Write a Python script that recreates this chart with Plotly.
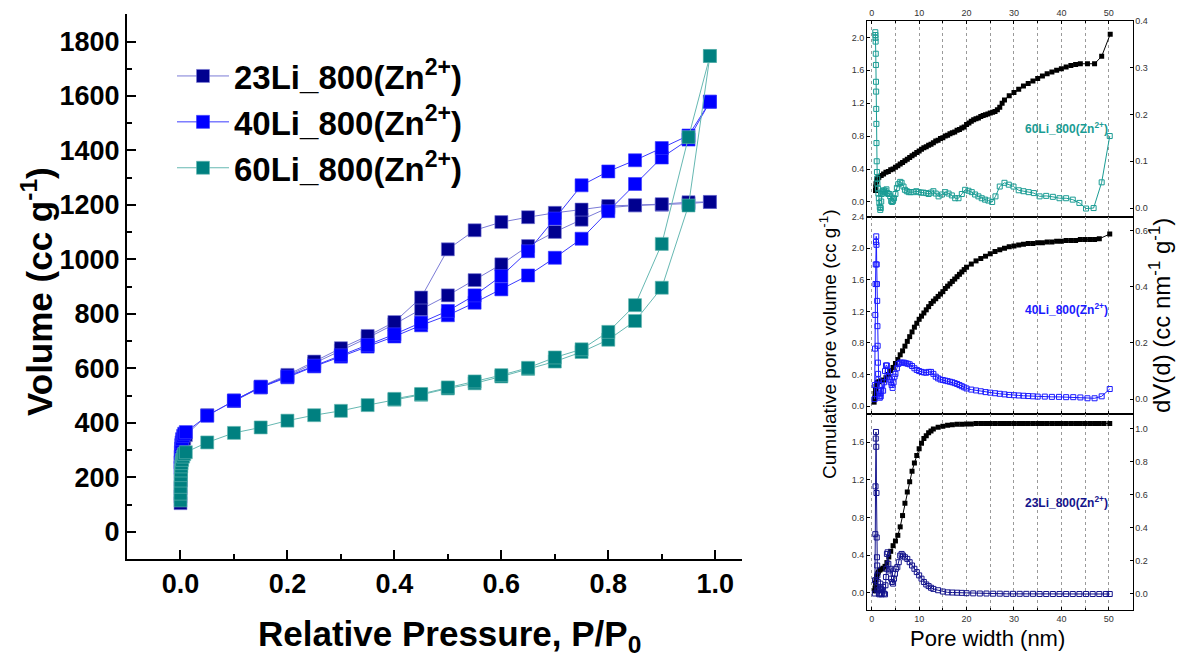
import plotly.graph_objects as go

W, H = 1184, 658

# ---------------- Left plot: N2 isotherms ----------------
P_ADS_23 = [0.00005, 0.0001, 0.0002, 0.0004, 0.0007, 0.001, 0.0015, 0.002, 0.003, 0.005, 0.007, 0.01,
            0.05, 0.1, 0.15, 0.2, 0.25, 0.3, 0.35, 0.4, 0.45, 0.5, 0.55, 0.6, 0.65, 0.7, 0.75, 0.8, 0.85,
            0.9, 0.95, 0.99]
V_ADS_23 = [105, 130, 160, 190, 220, 245, 268, 288, 308, 328, 342, 355,
            428, 480, 530, 572, 618, 665, 712, 762, 817, 868, 924, 982, 1049, 1101, 1146, 1190, 1198,
            1201, 1205, 1211]
P_DES_23 = [0.99, 0.95, 0.9, 0.85, 0.8, 0.75, 0.7, 0.65, 0.6, 0.55, 0.5, 0.45, 0.4, 0.35, 0.3, 0.25, 0.2,
            0.15, 0.1]
V_DES_23 = [1211, 1210, 1203, 1199, 1196, 1183, 1171, 1155, 1137, 1107, 1037, 860, 770, 719, 674, 625, 576,
            533, 482]

P_ADS_40 = [0.0001, 0.0002, 0.0004, 0.0007, 0.001, 0.0015, 0.002, 0.003, 0.005, 0.007, 0.01,
            0.05, 0.1, 0.15, 0.2, 0.25, 0.3, 0.35, 0.4, 0.45, 0.5, 0.55, 0.6, 0.65, 0.7, 0.75, 0.8, 0.85,
            0.9, 0.95, 0.99]
V_ADS_40 = [235, 255, 275, 292, 305, 318, 328, 340, 352, 360, 366,
            426, 481, 530, 567, 607, 643, 680, 717, 758, 795, 841, 890, 941, 1006, 1076, 1177, 1277,
            1374, 1440, 1579]
P_DES_40 = [0.99, 0.95, 0.9, 0.85, 0.8, 0.75, 0.7, 0.65, 0.6, 0.55, 0.5, 0.45, 0.4, 0.35, 0.3, 0.25, 0.2,
            0.15, 0.1]
V_DES_40 = [1579, 1455, 1409, 1364, 1323, 1272, 1150, 1030, 939, 868, 811, 768, 725, 686, 648, 610, 570,
            532, 482]

P_ADS_60 = [0.00005, 0.0001, 0.0002, 0.0004, 0.0007, 0.001, 0.0015, 0.002, 0.003, 0.005, 0.007, 0.01,
            0.05, 0.1, 0.15, 0.2, 0.25, 0.3, 0.35, 0.4, 0.45, 0.5, 0.55, 0.6, 0.65, 0.7, 0.75, 0.8, 0.85,
            0.9, 0.95, 0.99]
V_ADS_60 = [115, 140, 165, 188, 208, 225, 240, 252, 264, 276, 285, 292,
            328, 363, 383, 408, 428, 444, 465, 485, 503, 526, 545, 570, 598, 625, 660, 705, 774,
            896, 1198, 1747]
P_DES_60 = [0.99, 0.95, 0.9, 0.85, 0.8, 0.75, 0.7, 0.65, 0.6, 0.55, 0.5, 0.45, 0.4]
V_DES_60 = [1747, 1449, 1057, 832, 734, 670, 640, 602, 575, 552, 530, 506, 488]

ISO_NAMES = ["23Li_800(Zn<sup>2+</sup>)", "40Li_800(Zn<sup>2+</sup>)", "60Li_800(Zn<sup>2+</sup>)"]

# ---------------- Right plot: pore size distributions ----------------
PW_CUM_60 = [0.8, 0.85, 0.9, 1.0, 1.1, 1.3, 1.5, 2.0, 2.5, 3.0, 3.5, 4.0, 4.5, 5.0, 5.5, 6.0, 6.5, 7.0,
             7.5, 8.0, 8.5, 9.0, 9.5, 10, 10.5, 11, 11.5, 12, 12.5, 13, 13.5, 14, 14.5, 15, 15.5, 16,
             16.5, 17, 17.5, 18, 18.5, 19, 19.5, 20, 20.5, 21, 21.5, 22, 22.5, 23, 23.5, 24, 24.5, 25,
             25.5, 26, 26.5, 27, 27.5, 28, 29, 30, 31, 32, 33, 34, 35, 36, 37, 38, 39, 40, 41, 42, 43,
             44, 45.5, 47, 48.5, 50.3]
CUM_60 = [0.14, 0.18, 0.22, 0.25, 0.27, 0.29, 0.30, 0.32, 0.34, 0.36, 0.37, 0.39, 0.40, 0.42, 0.44, 0.46,
          0.48, 0.50, 0.52, 0.54, 0.56, 0.58, 0.60, 0.62, 0.64, 0.66, 0.67, 0.69, 0.70, 0.72, 0.74, 0.75,
          0.77, 0.78, 0.80, 0.81, 0.83, 0.84, 0.85, 0.87, 0.88, 0.90, 0.91, 0.94, 0.96, 0.98, 1.00, 1.01,
          1.02, 1.04, 1.05, 1.06, 1.07, 1.08, 1.09, 1.10, 1.12, 1.15, 1.20, 1.24, 1.29, 1.33, 1.37, 1.41,
          1.44, 1.47, 1.50, 1.53, 1.56, 1.58, 1.60, 1.62, 1.64, 1.66, 1.67, 1.68, 1.68, 1.68, 1.77, 2.04]

PW_DV_60 = [0.75, 0.78, 0.8, 0.82, 0.85, 0.88, 0.9, 0.93, 0.95, 0.98, 1.0, 1.05, 1.1, 1.15, 1.2, 1.3, 1.4,
            1.5, 1.6, 1.7, 1.8, 1.9, 2.0, 2.1, 2.25, 2.4, 2.55, 2.7, 2.9, 3.1, 3.3, 3.5, 3.7, 3.9, 4.1,
            4.3, 4.5, 4.7, 5.0, 5.3, 5.6, 6.0, 6.3, 6.7, 7.0, 7.4, 7.8, 8.2, 8.8, 9.4, 9.9, 10.4, 10.9,
            11.5, 12.0, 12.5, 13.0, 13.5, 14.1, 14.8, 15.5, 16.2, 16.9, 17.6, 18.3, 19.0, 19.7, 20.4,
            21.1, 21.8, 22.5, 23.2, 23.9, 24.6, 25.4, 26.1, 27.0, 28.0, 28.9, 29.9, 31.0, 32.0, 33.1,
            34.2, 35.4, 36.8, 38.2, 39.6, 41.0, 42.4, 43.8, 45.2, 46.8, 48.5, 50.2]
DV_60 = [0.376, 0.370, 0.364, 0.356, 0.330, 0.306, 0.270, 0.249, 0.212, 0.180, 0.139, 0.100, 0.077, 0.063,
         0.052, 0.042, 0.031, 0.021, 0.011, 0.002, -0.004, 0.000, 0.014, 0.030, 0.036, 0.033, 0.038, 0.034,
         0.037, 0.040, 0.032, 0.030, 0.030, 0.025, 0.015, 0.013, 0.016, 0.021, 0.030, 0.043, 0.051, 0.056,
         0.054, 0.046, 0.039, 0.036, 0.034, 0.034, 0.034, 0.036, 0.034, 0.033, 0.033, 0.032, 0.030, 0.033,
         0.036, 0.031, 0.025, 0.029, 0.034, 0.031, 0.027, 0.021, 0.021, 0.030, 0.039, 0.037, 0.034, 0.029,
         0.025, 0.021, 0.018, 0.016, 0.013, 0.025, 0.046, 0.054, 0.050, 0.046, 0.038, 0.036, 0.034, 0.032,
         0.025, 0.026, 0.024, 0.021, 0.021, 0.018, 0.011, -0.001, 0.000, 0.055, 0.154]

PW_CUM_40 = [0.5, 0.6, 0.7, 0.8, 0.9, 1.0, 1.2, 1.5, 2.0, 2.5, 3.0, 3.5, 4.0, 4.5, 5.0, 5.5, 6.0, 6.5, 7.0,
             7.5, 8.0, 8.5, 9.0, 9.5, 10.0, 10.5, 11, 11.5, 12, 12.5, 13, 13.5, 14, 14.5, 15, 15.5, 16,
             16.5, 17, 17.5, 18, 18.5, 19, 19.5, 20, 21, 22, 23, 24, 25, 26, 27, 28, 29, 30, 31, 32, 33,
             34, 35, 36, 37, 38, 39, 40, 41, 42, 43, 44, 45, 46, 47, 48, 50.2]
CUM_40 = [0.05, 0.10, 0.16, 0.21, 0.25, 0.28, 0.30, 0.31, 0.32, 0.33, 0.36, 0.40, 0.45, 0.49, 0.54, 0.59,
          0.65, 0.70, 0.76, 0.82, 0.88, 0.94, 1.00, 1.05, 1.10, 1.14, 1.18, 1.22, 1.26, 1.30, 1.33, 1.36,
          1.39, 1.42, 1.45, 1.49, 1.52, 1.55, 1.58, 1.61, 1.64, 1.67, 1.70, 1.73, 1.76, 1.80, 1.84, 1.87,
          1.90, 1.93, 1.96, 1.98, 2.00, 2.02, 2.03, 2.04, 2.05, 2.06, 2.06, 2.07, 2.07, 2.08, 2.08, 2.09,
          2.09, 2.10, 2.10, 2.10, 2.11, 2.11, 2.11, 2.11, 2.12, 2.18]

PW_DV_40 = [0.6, 0.65, 0.7, 0.75, 0.8, 0.85, 0.9, 0.95, 1.0, 1.05, 1.1, 1.15, 1.2, 1.25, 1.3, 1.35, 1.4,
            1.5, 1.6, 1.7, 1.8, 1.9, 2.0, 2.2, 2.4, 2.6, 2.8, 3.0, 3.2, 3.4, 3.6, 3.8, 4.0, 4.2, 4.4, 4.6,
            4.8, 5.0, 5.3, 5.6, 6.0, 6.4, 6.8, 7.2, 7.6, 8.0, 8.5, 9.0, 9.5, 10.0, 10.5, 11.0, 11.5, 12.0,
            12.5, 13.0, 13.5, 14.0, 14.5, 15.0, 15.5, 16, 16.5, 17, 17.5, 18, 18.5, 19, 19.5, 20, 21, 22,
            23, 24, 25, 26, 27, 28, 29, 30, 31, 32, 33, 34, 35, 36.5, 38, 39.5, 41, 42.5, 44, 45.5, 47,
            48.5, 50.2]
DV_40 = [0.000, 0.050, 0.180, 0.300, 0.410, 0.480, 0.560, 0.580, 0.550, 0.480, 0.410, 0.350, 0.260, 0.190,
         0.130, 0.090, 0.070, 0.030, 0.010, 0.005, 0.020, 0.010, 0.030, 0.050, 0.030, 0.060, 0.100, 0.120,
         0.120, 0.100, 0.080, 0.070, 0.060, 0.050, 0.040, 0.060, 0.080, 0.090, 0.110, 0.125, 0.130, 0.130,
         0.130, 0.128, 0.126, 0.124, 0.118, 0.110, 0.104, 0.100, 0.097, 0.095, 0.094, 0.097, 0.097, 0.090,
         0.080, 0.074, 0.070, 0.068, 0.066, 0.064, 0.062, 0.060, 0.057, 0.054, 0.050, 0.046, 0.042, 0.038,
         0.034, 0.031, 0.028, 0.025, 0.023, 0.021, 0.019, 0.017, 0.015, 0.014, 0.013, 0.012, 0.011, 0.010,
         0.009, 0.009, 0.008, 0.008, 0.007, 0.007, 0.006, 0.003, 0.003, 0.010, 0.036]

PW_CUM_23 = [0.6, 0.7, 0.8, 0.9, 1.0, 1.2, 1.4, 1.7, 2.0, 2.4, 2.8, 3.2, 3.6, 4.0, 4.5, 5.0, 5.5, 6.0, 6.5,
             7.0, 7.5, 8.0, 8.5, 9.0, 9.5, 10.0, 10.5, 11.0, 11.5, 12.0, 12.5, 13.0, 14, 15, 16, 17, 18,
             19, 20, 21, 22, 23, 24, 25, 26, 27, 28, 29, 30, 31, 32, 33, 34, 35, 36, 37, 38, 39, 40, 41,
             42, 43, 44, 45, 46, 47, 48, 49, 50.2]
CUM_23 = [0.02, 0.05, 0.10, 0.14, 0.17, 0.20, 0.22, 0.24, 0.25, 0.26, 0.28, 0.32, 0.38, 0.44, 0.50, 0.55,
          0.61, 0.70, 0.82, 0.95, 1.07, 1.18, 1.29, 1.38, 1.46, 1.53, 1.59, 1.64, 1.67, 1.70, 1.72, 1.74,
          1.76, 1.77, 1.78, 1.785, 1.79, 1.79, 1.795, 1.795, 1.80, 1.80, 1.80, 1.80, 1.80, 1.80, 1.80,
          1.80, 1.80, 1.80, 1.80, 1.80, 1.80, 1.80, 1.80, 1.80, 1.80, 1.80, 1.80, 1.80, 1.80, 1.80, 1.80,
          1.80, 1.80, 1.80, 1.80, 1.80, 1.80]

PW_DV_23 = [0.65, 0.7, 0.75, 0.8, 0.85, 0.9, 0.95, 1.0, 1.05, 1.1, 1.15, 1.2, 1.3, 1.4, 1.5, 1.6, 1.7, 1.8,
            1.9, 2.0, 2.1, 2.2, 2.4, 2.6, 2.8, 2.9, 3.0, 3.1, 3.2, 3.35, 3.5, 3.7, 3.9, 4.1, 4.3, 4.5, 4.7,
            4.9, 5.1, 5.4, 5.7, 6.0, 6.3, 6.6, 7.0, 7.5, 8.0, 8.5, 9.0, 9.5, 10.0, 10.5, 11.0, 11.5, 12.0,
            12.5, 13.0, 14.0, 15.0, 16.0, 17.0, 18.0, 19.0, 20.0, 21.4, 22.8, 24.2, 25.6, 27.0, 28.4, 29.8,
            31.2, 32.6, 34.0, 35.4, 36.8, 38.2, 39.6, 41.0, 42.4, 43.8, 45.2, 46.6, 48.0, 49.4, 50.2]
DV_23 = [0.000, 0.080, 0.360, 0.650, 0.940, 0.980, 0.890, 0.610, 0.340, 0.220, 0.170, 0.110, 0.070, 0.020,
         0.000, -0.005, 0.030, 0.060, 0.030, 0.000, -0.005, 0.020, 0.040, 0.000, -0.005, 0.050, 0.100,
         0.150, 0.240, 0.250, 0.180, 0.140, 0.150, 0.090, 0.070, 0.060, 0.090, 0.120, 0.150, 0.160, 0.190,
         0.230, 0.240, 0.230, 0.220, 0.210, 0.190, 0.170, 0.150, 0.130, 0.110, 0.090, 0.070, 0.055, 0.045,
         0.035, 0.028, 0.020, 0.012, 0.007, 0.006, 0.005, 0.004, 0.002, 0.001, 0.000, 0.000, -0.001,
         -0.001, -0.002, -0.002, -0.002, -0.002, -0.002, -0.003, -0.003, -0.003, -0.003, -0.003, -0.003,
         -0.003, -0.003, -0.003, -0.003, -0.003, -0.003]

PSD_LABELS = ["60Li_800(Zn<sup>2+</sup>)", "40Li_800(Zn<sup>2+</sup>)", "23Li_800(Zn<sup>2+</sup>)"]

# ---------------- styles ----------------
C23, L23 = "#00008f", "#7b7bd6"
C40, L40 = "#0000ff", "#3a3aff"
C60, L60 = "#008080", "#66b8b2"
PSD_COLORS = ["#1a9c94", "#1a1aff", "#14148c"]


def px(x):
    return x / W


def py(y):
    return 1 - y / H


fig = go.Figure()

iso_sets = [
    (P_ADS_23, V_ADS_23, P_DES_23, V_DES_23, C23, L23),
    (P_ADS_40, V_ADS_40, P_DES_40, V_DES_40, C40, L40),
    (P_ADS_60, V_ADS_60, P_DES_60, V_DES_60, C60, L60),
]
for name, (pa, va, pd, vd, mc, lc) in zip(ISO_NAMES, iso_sets):
    for k, (xx, yy) in enumerate([(pa, va), (pd, vd)]):
        fig.add_trace(go.Scatter(
            x=xx, y=yy, mode="lines+markers", name=name, showlegend=(k == 0),
            line=dict(color=lc, width=1),
            marker=dict(symbol="square", size=13, color=mc, line=dict(color=lc, width=0.6)),
            xaxis="x", yaxis="y"))

psd = [
    (PW_CUM_60, CUM_60, PW_DV_60, DV_60, "x2", "y3", "y4"),
    (PW_CUM_40, CUM_40, PW_DV_40, DV_40, "x3", "y5", "y6"),
    (PW_CUM_23, CUM_23, PW_DV_23, DV_23, "x4", "y7", "y8"),
]
for (xc, yc, xd, yd, xa, ya, yb), col in zip(psd, PSD_COLORS):
    fig.add_trace(go.Scatter(
        x=xc, y=yc, mode="lines+markers", showlegend=False,
        line=dict(color="black", width=1),
        marker=dict(symbol="square", size=5, color="black"),
        xaxis=xa, yaxis=ya))
    fig.add_trace(go.Scatter(
        x=xd, y=yd, mode="lines+markers", showlegend=False,
        line=dict(color=col, width=1),
        marker=dict(symbol="square-open", size=5, color=col, line=dict(width=1)),
        xaxis=xa, yaxis=yb))

BOLD = dict(family="Arial", color="black", weight="bold")

# left plot axes
fig.update_layout(
    xaxis=dict(domain=[px(127), px(742)], range=[-0.1, 1.05], anchor="y",
               tickvals=[0, 0.2, 0.4, 0.6, 0.8, 1.0], ticktext=["0.0", "0.2", "0.4", "0.6", "0.8", "1.0"],
               ticks="inside", ticklen=9, tickwidth=2, tickcolor="black",
               minor=dict(tickvals=[0.1, 0.3, 0.5, 0.7, 0.9], ticks="inside", ticklen=5, tickwidth=2,
                          tickcolor="black", showgrid=False),
               showline=True, linecolor="black", linewidth=2, showgrid=False, zeroline=False,
               tickfont=dict(size=27, **BOLD)),
    yaxis=dict(domain=[py(559), py(14.3)], range=[-100, 1900], anchor="x",
               tickvals=[0, 200, 400, 600, 800, 1000, 1200, 1400, 1600, 1800],
               ticks="inside", ticklen=9, tickwidth=2, tickcolor="black",
               minor=dict(tickvals=[100, 300, 500, 700, 900, 1100, 1300, 1500, 1700], ticks="inside",
                          ticklen=5, tickwidth=2, tickcolor="black", showgrid=False),
               showline=True, linecolor="black", linewidth=2, showgrid=False, zeroline=False,
               tickfont=dict(size=27, **BOLD)),
)

# right plot axes
XR = [-1, 55]
XDOM = [px(867), px(1132.5)]
SMALL = dict(family="Arial", size=9, color="#333333")
GRID = dict(showgrid=True, gridcolor="#9a9a9a", griddash="dot", gridwidth=1)


def xcfg(anchor, side, labels):
    return dict(domain=XDOM, range=XR, anchor=anchor, side=side, tickvals=[0, 10, 20, 30, 40, 50],
                showticklabels=labels, ticks="inside", ticklen=3, tickcolor="black",
                showline=True, mirror=True, linecolor="black", linewidth=1, zeroline=False,
                tickfont=SMALL, gridcolor="#9a9a9a", griddash="dot", showgrid=True, gridwidth=1,
                minor=dict(tickvals=[5, 15, 25, 35, 45], ticks="inside", ticklen=2, tickcolor="black", **GRID))


def ylcfg(anchor, dom, rng, vals):
    return dict(domain=dom, range=rng, anchor=anchor, side="left", tickvals=vals,
                ticktext=["%.1f" % v for v in vals], ticks="inside", ticklen=3, tickcolor="black",
                showline=True, linecolor="black", linewidth=1, zeroline=False, showgrid=False,
                tickfont=SMALL)


def yrcfg(anchor, over, rng, vals):
    return dict(overlaying=over, range=rng, anchor=anchor, side="right", tickvals=vals,
                ticktext=["%.1f" % v for v in vals], ticks="inside", ticklen=3, tickcolor="black",
                showline=True, linecolor="black", linewidth=1, zeroline=False, showgrid=False,
                tickfont=SMALL)


D_TOP = [py(216.7), py(21)]
D_MID = [py(414), py(216.7)]
D_BOT = [py(610), py(414)]

fig.update_layout(
    xaxis2=xcfg("y3", "top", True),
    xaxis3=xcfg("y5", "bottom", False),
    xaxis4=xcfg("y7", "bottom", True),
    yaxis3=ylcfg("x2", D_TOP, [-0.18, 2.2], [0.0, 0.4, 0.8, 1.2, 1.6, 2.0]),
    yaxis4=yrcfg("x2", "y3", [-0.0185, 0.4], [0.0, 0.1, 0.2, 0.3, 0.4]),
    yaxis5=ylcfg("x3", D_MID, [-0.1, 2.4], [0.0, 0.4, 0.8, 1.2, 1.6, 2.0, 2.4]),
    yaxis6=yrcfg("x3", "y5", [-0.053, 0.65], [0.0, 0.2, 0.4, 0.6]),
    yaxis7=ylcfg("x4", D_BOT, [-0.184, 1.9], [0.0, 0.4, 0.8, 1.2, 1.6]),
    yaxis8=yrcfg("x4", "y7", [-0.10, 1.089], [0.0, 0.2, 0.4, 0.6, 0.8, 1.0]),
)

CM = dict(showarrow=False, xref="paper", yref="paper", xanchor="center", yanchor="middle")
annotations = [
    dict(x=px(37), y=py(292), text="Volume (cc g<sup>-1</sup>)", textangle=-90,
         font=dict(size=35, **BOLD), **CM),
    dict(x=px(449), y=py(636), text="Relative Pressure, P/P<sub>0</sub>",
         font=dict(size=35, **BOLD), **CM),
    dict(x=px(828), y=py(345), text="Cumulative pore volume (cc g<sup>-1</sup>)", textangle=-90,
         font=dict(family="Arial", size=19, color="black"), **CM),
    dict(x=px(1160), y=py(316), text="dV(d) (cc nm<sup>-1</sup> g<sup>-1</sup>)", textangle=-90,
         font=dict(family="Arial", size=24, color="black"), **CM),
    dict(x=px(987), y=py(638), text="Pore width (nm)",
         font=dict(family="Arial", size=22, color="black"), **CM),
]
for lab, col, yy in zip(PSD_LABELS, PSD_COLORS, [128, 309, 502]):
    annotations.append(dict(x=px(1066), y=py(yy), text=lab,
                            font=dict(family="Arial", size=12, color=col, weight="bold"), **CM))

fig.update_layout(
    width=W, height=H, margin=dict(l=0, r=0, t=0, b=0),
    paper_bgcolor="white", plot_bgcolor="rgba(0,0,0,0)", template="none",
    annotations=annotations,
    legend=dict(x=px(172), y=py(48), xanchor="left", yanchor="top", bgcolor="rgba(0,0,0,0)",
                font=dict(size=33, **BOLD), itemwidth=52, tracegroupgap=0),
)

fig.write_html("out.html")
